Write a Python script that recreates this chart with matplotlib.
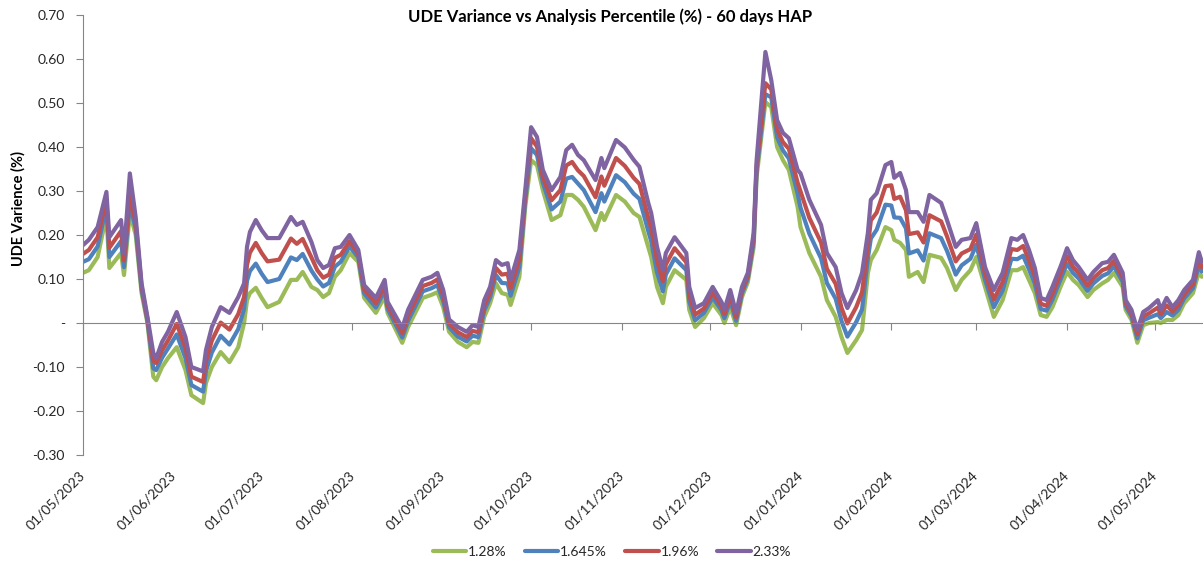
import matplotlib
matplotlib.use("Agg")
import matplotlib.pyplot as plt
import matplotlib.dates as mdates
from matplotlib.ticker import FuncFormatter
import pandas as pd

plt.rcParams['font.family'] = ['Lato', 'DejaVu Sans']

dates = [
    "2023-05-01", "2023-05-03", "2023-05-06", "2023-05-09", "2023-05-10", "2023-05-14", "2023-05-15", "2023-05-17",
    "2023-05-19", "2023-05-21", "2023-05-23", "2023-05-25", "2023-05-26", "2023-05-28", "2023-05-30", "2023-06-02",
    "2023-06-05", "2023-06-07", "2023-06-11", "2023-06-12", "2023-06-14", "2023-06-17", "2023-06-20", "2023-06-23",
    "2023-06-25", "2023-06-26", "2023-06-27", "2023-06-29", "2023-07-01", "2023-07-03", "2023-07-07", "2023-07-11",
    "2023-07-13", "2023-07-15", "2023-07-18", "2023-07-20", "2023-07-22", "2023-07-24", "2023-07-26", "2023-07-28",
    "2023-07-31", "2023-08-03", "2023-08-05", "2023-08-09", "2023-08-12", "2023-08-13", "2023-08-18", "2023-08-20",
    "2023-08-25", "2023-08-28", "2023-08-30", "2023-09-01", "2023-09-03", "2023-09-06", "2023-09-09", "2023-09-11",
    "2023-09-13", "2023-09-15", "2023-09-17", "2023-09-19", "2023-09-21", "2023-09-23", "2023-09-24", "2023-09-27",
    "2023-09-29", "2023-10-01", "2023-10-03", "2023-10-05", "2023-10-08", "2023-10-11", "2023-10-13", "2023-10-15",
    "2023-10-17", "2023-10-19", "2023-10-23", "2023-10-25", "2023-10-26", "2023-10-30", "2023-11-02", "2023-11-05",
    "2023-11-07", "2023-11-10", "2023-11-11", "2023-11-13", "2023-11-15", "2023-11-16", "2023-11-19", "2023-11-23",
    "2023-11-24", "2023-11-26", "2023-11-29", "2023-12-02", "2023-12-05", "2023-12-06", "2023-12-08", "2023-12-10",
    "2023-12-12", "2023-12-14", "2023-12-16", "2023-12-17", "2023-12-20", "2023-12-22", "2023-12-24", "2023-12-26",
    "2023-12-28", "2023-12-31", "2024-01-01", "2024-01-04", "2024-01-08", "2024-01-10", "2024-01-13", "2024-01-15",
    "2024-01-17", "2024-01-20", "2024-01-22", "2024-01-24", "2024-01-25", "2024-01-27", "2024-01-30", "2024-02-01",
    "2024-02-02", "2024-02-04", "2024-02-06", "2024-02-07", "2024-02-10", "2024-02-12", "2024-02-14", "2024-02-18",
    "2024-02-20", "2024-02-23", "2024-02-25", "2024-02-28", "2024-03-01", "2024-03-04", "2024-03-07", "2024-03-10",
    "2024-03-13", "2024-03-15", "2024-03-17", "2024-03-19", "2024-03-21", "2024-03-23", "2024-03-25", "2024-03-27",
    "2024-03-30", "2024-04-01", "2024-04-03", "2024-04-05", "2024-04-08", "2024-04-10", "2024-04-13", "2024-04-15",
    "2024-04-17", "2024-04-20", "2024-04-21", "2024-04-23", "2024-04-25", "2024-04-27", "2024-04-29", "2024-05-02",
    "2024-05-03", "2024-05-05", "2024-05-07", "2024-05-09", "2024-05-11", "2024-05-14", "2024-05-16", "2024-05-17",
]

p128 = [
    0.114, 0.120, 0.150, 0.245, 0.125, 0.159, 0.109, 0.250, 0.200, 0.068, 0.000, -0.122, -0.130, -0.100, -0.080, -0.055,
    -0.107, -0.164, -0.182, -0.136, -0.100, -0.066, -0.089, -0.055, 0.000, 0.052, 0.068, 0.080, 0.057, 0.036, 0.048, 0.098,
    0.098, 0.116, 0.082, 0.075, 0.059, 0.068, 0.105, 0.120, 0.159, 0.139, 0.057, 0.023, 0.060, 0.023, -0.045, -0.009,
    0.057, 0.064, 0.070, 0.036, -0.020, -0.043, -0.055, -0.043, -0.045, 0.014, 0.045, 0.090, 0.068, 0.064, 0.041, 0.105,
    0.264, 0.370, 0.359, 0.302, 0.234, 0.245, 0.291, 0.291, 0.280, 0.264, 0.211, 0.250, 0.234, 0.291, 0.276, 0.250,
    0.241, 0.173, 0.150, 0.082, 0.045, 0.082, 0.120, 0.098, 0.030, -0.009, 0.011, 0.045, 0.018, 0.000, 0.036, -0.005,
    0.059, 0.093, 0.173, 0.332, 0.502, 0.491, 0.400, 0.370, 0.348, 0.264, 0.218, 0.159, 0.105, 0.052, 0.014, -0.032,
    -0.068, -0.039, -0.016, 0.114, 0.143, 0.166, 0.218, 0.211, 0.189, 0.182, 0.166, 0.105, 0.116, 0.093, 0.155, 0.148,
    0.125, 0.075, 0.098, 0.120, 0.150, 0.082, 0.014, 0.052, 0.120, 0.120, 0.127, 0.098, 0.068, 0.018, 0.014, 0.036,
    0.086, 0.116, 0.098, 0.086, 0.059, 0.075, 0.090, 0.098, 0.114, 0.082, 0.030, 0.007, -0.045, -0.005, 0.000, 0.002,
    0.000, 0.007, 0.007, 0.018, 0.045, 0.068, 0.116, 0.105,
]

p1645 = [
    0.139, 0.145, 0.174, 0.264, 0.150, 0.186, 0.127, 0.270, 0.214, 0.076, 0.005, -0.103, -0.107, -0.079, -0.058, -0.026,
    -0.080, -0.141, -0.156, -0.109, -0.067, -0.029, -0.049, -0.014, 0.032, 0.096, 0.118, 0.135, 0.112, 0.093, 0.100, 0.149,
    0.143, 0.157, 0.119, 0.099, 0.083, 0.091, 0.128, 0.139, 0.174, 0.149, 0.067, 0.035, 0.074, 0.032, -0.033, 0.005,
    0.072, 0.079, 0.086, 0.050, -0.010, -0.031, -0.042, -0.029, -0.032, 0.028, 0.058, 0.109, 0.091, 0.090, 0.062, 0.127,
    0.278, 0.397, 0.382, 0.319, 0.258, 0.276, 0.328, 0.332, 0.317, 0.302, 0.252, 0.295, 0.276, 0.336, 0.320, 0.294,
    0.282, 0.209, 0.186, 0.115, 0.072, 0.110, 0.147, 0.120, 0.049, 0.006, 0.023, 0.058, 0.029, 0.011, 0.050, 0.005,
    0.067, 0.101, 0.185, 0.346, 0.520, 0.513, 0.422, 0.392, 0.374, 0.294, 0.262, 0.203, 0.147, 0.091, 0.055, 0.004,
    -0.031, 0.002, 0.031, 0.147, 0.192, 0.212, 0.269, 0.267, 0.240, 0.239, 0.215, 0.158, 0.165, 0.142, 0.204, 0.193,
    0.164, 0.110, 0.131, 0.146, 0.178, 0.098, 0.036, 0.074, 0.146, 0.145, 0.153, 0.122, 0.089, 0.032, 0.028, 0.053,
    0.103, 0.135, 0.114, 0.101, 0.073, 0.090, 0.107, 0.113, 0.129, 0.094, 0.038, 0.015, -0.035, 0.006, 0.012, 0.020,
    0.011, 0.025, 0.017, 0.030, 0.056, 0.079, 0.132, 0.117,
]

p196 = [
    0.157, 0.166, 0.195, 0.280, 0.171, 0.209, 0.142, 0.290, 0.226, 0.083, 0.009, -0.086, -0.091, -0.062, -0.040, -0.002,
    -0.057, -0.122, -0.134, -0.086, -0.040, 0.001, -0.015, 0.020, 0.059, 0.132, 0.160, 0.182, 0.159, 0.140, 0.144, 0.192,
    0.180, 0.191, 0.149, 0.120, 0.103, 0.110, 0.148, 0.155, 0.186, 0.157, 0.076, 0.045, 0.085, 0.040, -0.023, 0.017,
    0.084, 0.091, 0.099, 0.062, -0.002, -0.021, -0.032, -0.018, -0.021, 0.039, 0.069, 0.125, 0.110, 0.112, 0.079, 0.145,
    0.289, 0.420, 0.401, 0.332, 0.279, 0.302, 0.358, 0.366, 0.347, 0.334, 0.286, 0.333, 0.312, 0.375, 0.357, 0.330,
    0.316, 0.239, 0.216, 0.142, 0.095, 0.133, 0.170, 0.138, 0.064, 0.019, 0.033, 0.069, 0.038, 0.020, 0.062, 0.013,
    0.074, 0.107, 0.194, 0.357, 0.545, 0.531, 0.440, 0.411, 0.396, 0.319, 0.299, 0.239, 0.183, 0.123, 0.089, 0.034,
    -0.001, 0.036, 0.070, 0.174, 0.233, 0.251, 0.311, 0.313, 0.282, 0.287, 0.256, 0.202, 0.206, 0.183, 0.245, 0.231,
    0.197, 0.140, 0.158, 0.168, 0.201, 0.112, 0.054, 0.093, 0.168, 0.166, 0.175, 0.143, 0.106, 0.044, 0.039, 0.066,
    0.116, 0.152, 0.128, 0.113, 0.085, 0.102, 0.120, 0.125, 0.141, 0.103, 0.045, 0.022, -0.026, 0.015, 0.022, 0.035,
    0.020, 0.040, 0.026, 0.040, 0.065, 0.088, 0.146, 0.127,
]

p233 = [
    0.177, 0.189, 0.218, 0.298, 0.195, 0.234, 0.159, 0.340, 0.240, 0.090, 0.014, -0.068, -0.080, -0.043, -0.020, 0.025,
    -0.032, -0.100, -0.110, -0.061, -0.009, 0.036, 0.023, 0.059, 0.090, 0.173, 0.207, 0.234, 0.211, 0.193, 0.193, 0.241,
    0.223, 0.230, 0.184, 0.143, 0.125, 0.132, 0.170, 0.173, 0.200, 0.166, 0.086, 0.057, 0.098, 0.048, -0.011, 0.030,
    0.098, 0.105, 0.114, 0.075, 0.008, -0.009, -0.020, -0.005, -0.009, 0.052, 0.082, 0.143, 0.132, 0.136, 0.098, 0.166,
    0.302, 0.445, 0.423, 0.348, 0.302, 0.332, 0.393, 0.405, 0.382, 0.370, 0.325, 0.375, 0.352, 0.416, 0.399, 0.371,
    0.355, 0.273, 0.250, 0.173, 0.120, 0.159, 0.195, 0.159, 0.082, 0.034, 0.045, 0.082, 0.048, 0.030, 0.075, 0.023,
    0.082, 0.114, 0.205, 0.370, 0.616, 0.552, 0.461, 0.432, 0.420, 0.348, 0.340, 0.280, 0.223, 0.159, 0.127, 0.068,
    0.034, 0.075, 0.114, 0.205, 0.280, 0.295, 0.359, 0.366, 0.330, 0.341, 0.302, 0.252, 0.252, 0.230, 0.291, 0.273,
    0.234, 0.173, 0.189, 0.193, 0.227, 0.127, 0.075, 0.114, 0.193, 0.189, 0.200, 0.166, 0.125, 0.057, 0.052, 0.082,
    0.132, 0.170, 0.143, 0.127, 0.098, 0.116, 0.136, 0.139, 0.155, 0.114, 0.052, 0.030, -0.016, 0.025, 0.034, 0.052,
    0.030, 0.057, 0.036, 0.052, 0.075, 0.098, 0.161, 0.139,
]

series_labels = ["1.28%", "1.645%", "1.96%", "2.33%"]
series_colors = ["#9BBB59", "#4F81BD", "#C0504D", "#8064A2"]
title = "UDE Variance vs Analysis Percentile (%) - 60 days HAP"
ylabel = "UDE Varience (%)"

x = pd.to_datetime(dates)

fig = plt.figure(figsize=(12.03, 5.62), dpi=100)
ax = fig.add_axes([83 / 1203, 1 - 455 / 562, 1120 / 1203, 440 / 562])

for vals, lab, col in zip([p128, p1645, p196, p233], series_labels, series_colors):
    ax.plot(x, vals, color=col, lw=3.0, label=lab, solid_joinstyle='round', solid_capstyle='round')

ax.set_ylim(-0.30, 0.70)
ax.set_yticks([-0.30, -0.20, -0.10, 0.0, 0.10, 0.20, 0.30, 0.40, 0.50, 0.60, 0.70])
ax.yaxis.set_major_formatter(FuncFormatter(lambda v, p: "-" if abs(v) < 1e-9 else f"{v:.2f}"))
ax.set_xlim(pd.Timestamp("2023-05-01"), pd.Timestamp("2024-05-17 10:00"))

ax.xaxis.set_major_locator(mdates.MonthLocator(bymonthday=1))
ax.xaxis.set_major_formatter(mdates.DateFormatter("%d/%m/%Y"))

axis_col = "#868686"
for s in ["top", "right"]:
    ax.spines[s].set_visible(False)
ax.spines["left"].set_color(axis_col)
ax.spines["bottom"].set_color(axis_col)
ax.spines["bottom"].set_position(("data", 0))
ax.tick_params(axis="y", direction="out", length=5, color=axis_col, labelsize=10, labelcolor="#262626", pad=8)
ax.tick_params(axis="x", direction="out", length=5, color=axis_col, labelsize=10, labelcolor="#262626", pad=103)
for lbl in ax.get_xticklabels():
    lbl.set_rotation(45)
    lbl.set_ha("right")
    lbl.set_va("center")
    lbl.set_rotation_mode("anchor")

fig.text(610 / 1203, 1 - 17 / 562, title, ha="center", va="center", fontsize=12, fontweight="bold", color="#000000")
fig.text(18 / 1203, 1 - 209 / 562, ylabel, ha="center", va="center", rotation=90, fontsize=10.5, fontweight="bold", color="#000000")

handles, labels = ax.get_legend_handles_labels()
fig.legend(handles, labels, loc="center", bbox_to_anchor=(612 / 1203, 1 - 552 / 562), ncol=4, frameon=False,
           fontsize=10, handlelength=2.4, handletextpad=0.15, columnspacing=1.3, labelcolor="#262626")

fig.savefig("out.png", dpi=100)
